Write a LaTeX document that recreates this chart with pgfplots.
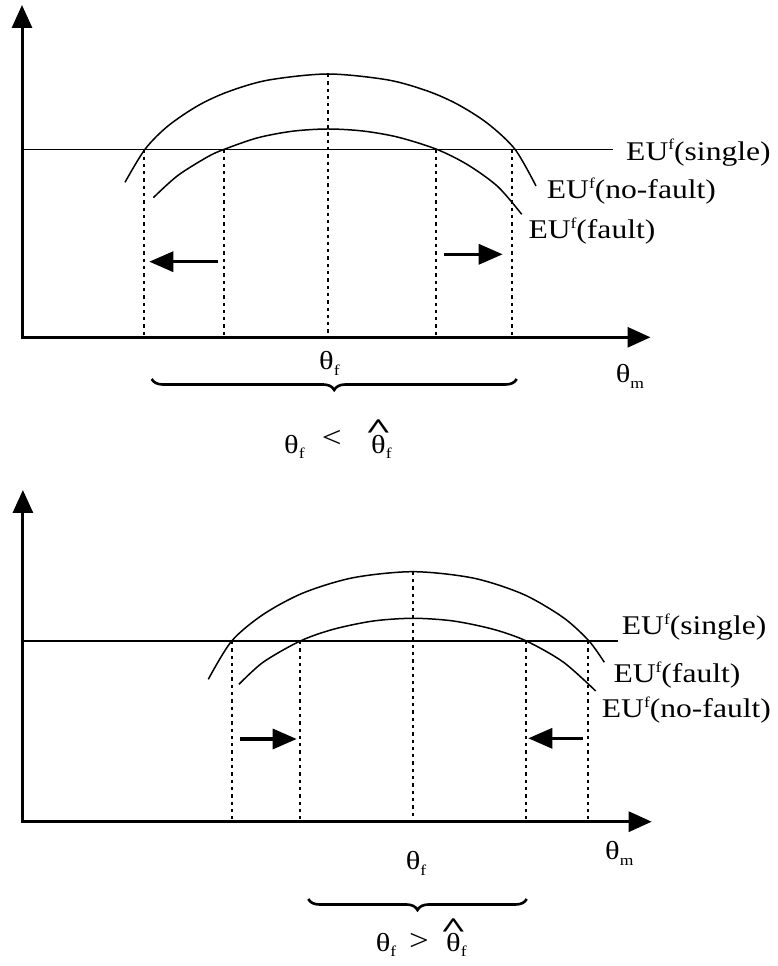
\documentclass[border=0pt]{standalone}
\usepackage{fontspec}
\setmainfont{Liberation Serif}
\usepackage{graphicx}
\usepackage{pgfplots}
\pgfplotsset{compat=1.18}
\usetikzlibrary{arrows.meta,decorations.pathreplacing}

% text in the figure is slightly stretched sideways
\newcommand\T[1]{\scalebox{1.17}[1]{#1}}
\newcommand\sups[1]{\raisebox{0.4em}{\fontsize{15}{15}\selectfont #1}}
\newcommand\subs[1]{\raisebox{-0.2em}{\fontsize{15}{15}\selectfont #1}}
\newcommand\EU[1]{\T{EU\sups{f}(#1)}}
\newcommand\thf{θ\subs{f}}
\newsavebox\thbox
\newcommand\hatth{\sbox\thbox{θ}\rlap{\hbox to \wd\thbox{\hss\raisebox{0.56em}{\scalebox{1.5}[1.1]{\bfseries\char"5E}}\hss}}θ}

\tikzset{
  eu/.style={anchor=base west, inner sep=0pt, font=\fontsize{27}{30}\selectfont},
  th/.style={anchor=base west, inner sep=0pt, font=\fontsize{26}{30}\selectfont},
  rel/.style={anchor=base west, inner sep=0pt, font=\fontsize{30}{32}\selectfont},
  drop/.style={line width=1.8pt, dash pattern=on 3.3pt off 4pt},
}

\begin{document}
\begin{tikzpicture}
\begin{axis}[
    width=778pt, height=966pt, scale only axis,
    xmin=0, xmax=778, ymin=0, ymax=966,
    axis lines=none, clip=false,
  ]
  % page frame
  \addplot[draw=none] coordinates {(0,0) (778,966)};

  % ---------------- top panel ----------------
  \addplot[line width=3pt, {Triangle[length=23pt,width=20pt]}-{Triangle[length=23pt,width=20pt]}]
    coordinates {(22,961) (22,628.7) (650.5,628.7)};
  \addplot[line width=1.2pt] coordinates {(22,816.7) (613.3,816.7)};
  % no-fault (outer)
  \addplot[line width=1.5pt, smooth] coordinates {
    (125,783.7) (145,816.7) (167.7,839.8) (197.7,860.2) (227.7,874.1) (267.7,885.8)
    (327.7,892) (387.7,886.1) (427.7,874.9) (457.7,861.6) (487.7,842.5) (515,816.7) (536,780)};
  % fault (inner)
  \addplot[line width=1.5pt, smooth] coordinates {
    (153.3,768.3) (177.7,790.4) (207.7,809.2) (224.3,816.7) (257.7,828.2) (292.7,834.8)
    (327.7,837) (362.7,835) (397.7,828.9) (436.7,816.7) (467.7,801.2) (497.7,779.5) (521.7,751.7)};
  % dropped verticals
  \addplot[drop] coordinates {(144,816.7) (144,630)};
  \addplot[drop] coordinates {(224.3,816.7) (224.3,630)};
  \addplot[drop] coordinates {(327.7,892) (327.7,630)};
  \addplot[drop] coordinates {(436,816.7) (436,630)};
  \addplot[drop] coordinates {(512.3,816.7) (512.3,630)};
  % shift arrows
  \addplot[line width=3.3pt, -{Triangle[length=24pt,width=20pt]}] coordinates {(218.3,704.3) (149.3,704.3)};
  \addplot[line width=3.3pt, -{Triangle[length=24pt,width=20pt]}] coordinates {(444.3,711.7) (502.7,711.7)};

  \node[eu] at (axis cs:626,805.3) {\EU{single}};
  \node[eu] at (axis cs:546.7,767) {\EU{no-fault}};
  \node[eu] at (axis cs:528.3,727) {\EU{fault}};
  \node[th] at (axis cs:319,596) {\T{\thf}};
  \node[th] at (axis cs:615.7,583) {\T{θ\subs{m}}};
  \draw[line width=2.6pt, decorate, decoration={brace, mirror, amplitude=11pt}]
    (axis cs:151.7,587) -- (axis cs:516.7,587);
  \node[th] at (axis cs:284,512.7) {\T{\thf}};
  \node[rel] at (axis cs:321.7,518) {\T{<}};
  \node[th] at (axis cs:371,512.7) {\T{\hatth\subs{f}}};

  % ---------------- bottom panel ----------------
  \addplot[line width=3pt, {Triangle[length=23pt,width=20pt]}-{Triangle[length=23pt,width=20pt]}]
    coordinates {(22.9,476) (22.9,144.3) (651.7,144.3)};
  \addplot[line width=1.2pt] coordinates {(22.9,325) (618.3,325)};
  % fault (outer)
  \addplot[line width=1.5pt, smooth] coordinates {
    (208.3,286.7) (231.7,325) (263.3,351.6) (303.3,373.1) (353.3,388.3)
    (413.3,394.3) (473.3,387.9) (523.3,371.7) (563.3,348.4) (589,325) (604.3,303.7)};
  % no-fault (inner)
  \addplot[line width=1.5pt, smooth] coordinates {
    (239,281.7) (263.3,303.9) (300.3,325) (333.3,336.7) (373.3,345)
    (413.3,347.7) (453.3,345) (493.3,336.7) (526.3,325) (563.3,303.9) (595.7,275)};
  \addplot[drop] coordinates {(232.3,325) (232.3,146)};
  \addplot[drop] coordinates {(300,325) (300,146)};
  \addplot[drop] coordinates {(412.7,394.3) (412.7,146)};
  \addplot[drop] coordinates {(526,325) (526,146)};
  \addplot[drop] coordinates {(588.3,325) (588.3,146)};
  \addplot[line width=3.3pt, -{Triangle[length=24pt,width=20pt]}] coordinates {(240,227) (296.7,227)};
  \addplot[line width=3.3pt, -{Triangle[length=24pt,width=20pt]}] coordinates {(582.7,227.7) (528.3,227.7)};

  \node[eu] at (axis cs:621.7,331) {\EU{single}};
  \node[eu] at (axis cs:613.3,283) {\EU{fault}};
  \node[eu] at (axis cs:601.7,248) {\EU{no-fault}};
  \node[th] at (axis cs:405.7,96) {\T{\thf}};
  \node[th] at (axis cs:605,106) {\T{θ\subs{m}}};
  \draw[line width=2.6pt, decorate, decoration={brace, mirror, amplitude=11pt}]
    (axis cs:308.3,67) -- (axis cs:526.7,67);
  \node[th] at (axis cs:375.7,14.3) {\T{\thf}};
  \node[rel] at (axis cs:409,15) {\T{>}};
  \node[th] at (axis cs:446,14.3) {\T{\hatth\subs{f}}};
\end{axis}
\end{tikzpicture}
\end{document}
